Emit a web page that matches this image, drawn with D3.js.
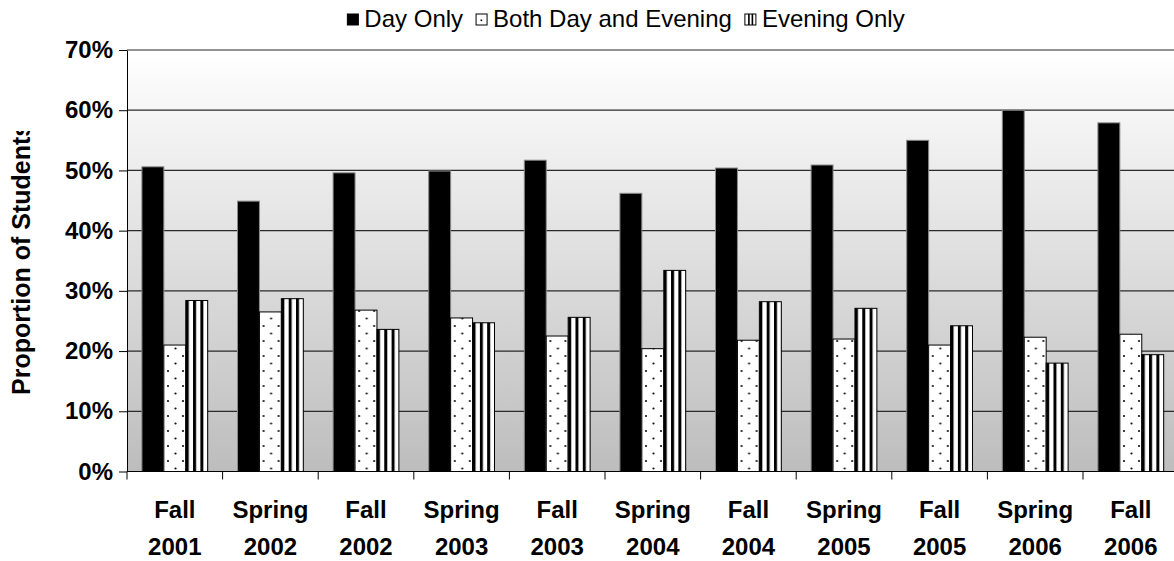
<!DOCTYPE html>
<html>
<head>
<meta charset="utf-8">
<script src="https://cdn.jsdelivr.net/npm/d3@7/dist/d3.min.js"></script>
<style>
  body { margin: 0; background: #fff; }
  svg { display: block; font-family: "Liberation Sans", Arial, sans-serif; }
</style>
</head>
<body>
<div id="chart"></div>
<script>
// data
var categories = ["Fall 2001", "Spring 2002", "Fall 2002", "Spring 2003", "Fall 2003", "Spring 2004",
                  "Fall 2004", "Spring 2005", "Fall 2005", "Spring 2006", "Fall 2006"];
var seriesNames = ["Day Only", "Both Day and Evening", "Evening Only"];
var dayOnly     = [0.506, 0.449, 0.496, 0.499, 0.517, 0.462, 0.504, 0.509, 0.550, 0.600, 0.579];
var bothDayEve  = [0.210, 0.265, 0.268, 0.255, 0.225, 0.204, 0.218, 0.220, 0.210, 0.223, 0.228];
var eveningOnly = [0.284, 0.287, 0.236, 0.247, 0.256, 0.334, 0.282, 0.271, 0.242, 0.180, 0.194];
var yTicks = [0, 0.1, 0.2, 0.3, 0.4, 0.5, 0.6, 0.7];

var series = [dayOnly, bothDayEve, eveningOnly];
var data = categories.map(function(c, i) {
  return { cat: c, values: series.map(function(s, k) { return { key: seriesNames[k], value: s[i] }; }) };
});

var width = 1174, height = 561;
var margin = {top: 50, left: 127};
var plotRight = 127 + 11 * 95.6, plotBottom = 471.5;

var svg = d3.select("#chart").append("svg")
    .attr("width", width)
    .attr("height", height);

var defs = svg.append("defs");

var grad = defs.append("linearGradient")
    .attr("id", "bg").attr("x1", 0).attr("y1", 0).attr("x2", 0).attr("y2", 1);
grad.append("stop").attr("offset", "0%").attr("stop-color", "#ffffff");
grad.append("stop").attr("offset", "100%").attr("stop-color", "#bdbdbd");

var dots = defs.append("pattern")
    .attr("id", "dots").attr("patternUnits", "userSpaceOnUse")
    .attr("width", 15).attr("height", 15);
dots.append("rect").attr("width", 15).attr("height", 15).attr("fill", "#fff");
dots.append("circle").attr("cx", 3.5).attr("cy", 3.5).attr("r", 1.1).attr("fill", "#111");
dots.append("circle").attr("cx", 11).attr("cy", 11).attr("r", 1.1).attr("fill", "#111");

var stripes = defs.append("pattern")
    .attr("id", "stripes").attr("patternUnits", "objectBoundingBox")
    .attr("width", 1 / 3).attr("height", 1);
stripes.append("rect").attr("width", 40).attr("height", 600).attr("fill", "#fff");
stripes.append("rect").attr("x", 0).attr("width", 3).attr("height", 600).attr("fill", "#000");

var x = d3.scaleBand()
    .domain(categories)
    .range([margin.left, plotRight]);

var xInner = d3.scaleBand()
    .domain(seriesNames)
    .range([0, x.bandwidth()])
    .paddingOuter(0.68);

var y = d3.scaleLinear()
    .domain([0, 0.7])
    .range([plotBottom, margin.top]);

var fills = {"Day Only": "#000", "Both Day and Evening": "url(#dots)", "Evening Only": "url(#stripes)"};
var strokes = {"Day Only": "#8a8a8a", "Both Day and Evening": "#000", "Evening Only": "#000"};

// plot background
svg.append("rect")
    .attr("x", margin.left).attr("y", margin.top)
    .attr("width", plotRight - margin.left).attr("height", plotBottom - margin.top)
    .attr("fill", "url(#bg)");

// gridlines
svg.append("g").selectAll("line")
    .data(yTicks.slice(1))
  .enter().append("line")
    .attr("x1", margin.left).attr("x2", plotRight)
    .attr("y1", function(d) { return y(d); }).attr("y2", function(d) { return y(d); })
    .attr("stroke", "#2a2a2a").attr("stroke-width", 1.2);

// bars
var group = svg.append("g").selectAll(".group")
    .data(data)
  .enter().append("g")
    .attr("class", "group")
    .attr("transform", function(d) { return "translate(" + x(d.cat) + ",0)"; });

group.selectAll("rect")
    .data(function(d) { return d.values; })
  .enter().append("rect")
    .attr("x", function(d) { return xInner(d.key); })
    .attr("y", function(d) { return y(d.value); })
    .attr("width", xInner.bandwidth())
    .attr("height", function(d) { return plotBottom - y(d.value); })
    .attr("fill", function(d) { return fills[d.key]; })
    .attr("stroke", function(d) { return strokes[d.key]; })
    .attr("stroke-width", 1);

// y axis
var yAxis = svg.append("g")
    .attr("transform", "translate(" + margin.left + ",0)")
    .call(d3.axisLeft(y).tickValues(yTicks).tickFormat(d3.format(".0%")).tickSize(8).tickPadding(6).tickSizeOuter(0));
yAxis.select(".domain").attr("stroke", "#000");
yAxis.selectAll(".tick line").attr("stroke", "#000");
yAxis.selectAll("text")
    .attr("fill", "#000")
    .style("font-size", "24px")
    .style("font-weight", "bold");

// x axis: ticks at category boundaries, two line labels
var xAxis = svg.append("g")
    .attr("transform", "translate(0," + plotBottom + ")");
xAxis.append("line")
    .attr("x1", margin.left).attr("x2", plotRight)
    .attr("stroke", "#000");
xAxis.selectAll(".bt")
    .data(categories)
  .enter().append("line")
    .attr("class", "bt")
    .attr("x1", function(d) { return x(d); }).attr("x2", function(d) { return x(d); })
    .attr("y1", 0).attr("y2", 8)
    .attr("stroke", "#000");

var lab = xAxis.selectAll(".lab")
    .data(categories)
  .enter().append("text")
    .attr("class", "lab")
    .attr("x", function(d) { return x(d) + x.bandwidth() / 2; })
    .attr("text-anchor", "middle")
    .style("font-size", "24px")
    .style("font-weight", "bold");
lab.append("tspan")
    .attr("x", function(d) { return x(d) + x.bandwidth() / 2; })
    .attr("y", 46)
    .text(function(d) { return d.split(" ")[0]; });
lab.append("tspan")
    .attr("x", function(d) { return x(d) + x.bandwidth() / 2; })
    .attr("y", 83)
    .text(function(d) { return d.split(" ")[1]; });

// y title, cut off at the top like the original
defs.append("clipPath").attr("id", "titleClip")
  .append("rect").attr("x", 0).attr("y", 131).attr("width", 60).attr("height", 300);
svg.append("g")
    .attr("clip-path", "url(#titleClip)")
  .append("text")
    .attr("transform", "translate(30,395) rotate(-90)")
    .style("font-size", "25px")
    .style("font-weight", "bold")
    .text("Proportion of Students");

// legend
var legend = svg.append("g").attr("class", "legend");
var lx = 0;
seriesNames.forEach(function(name) {
  var g = legend.append("g").attr("transform", "translate(" + lx + ",0)");
  var box = g.append("rect")
      .attr("x", 0).attr("y", -13).attr("width", 11).attr("height", 11)
      .attr("stroke", "#000").attr("stroke-width", 1);
  if (name === "Day Only") box.attr("fill", "#000");
  else box.attr("fill", "#fff");
  if (name === "Both Day and Evening")
    g.append("rect").attr("x", 4.5).attr("y", -7.5).attr("width", 1.6).attr("height", 1.6).attr("fill", "#000");
  if (name === "Evening Only") {
    g.append("line").attr("x1", 4).attr("x2", 4).attr("y1", -13).attr("y2", -2).attr("stroke", "#000").attr("stroke-width", 1.6);
    g.append("line").attr("x1", 7.5).attr("x2", 7.5).attr("y1", -13).attr("y2", -2).attr("stroke", "#000").attr("stroke-width", 1.6);
  }
  var t = g.append("text")
      .attr("x", 17).attr("y", 0)
      .style("font-size", "24px")
      .text(name);
  lx += 17 + t.node().getComputedTextLength() + 13;
});
var lw = lx - 13;
legend.attr("transform", "translate(" + (626 - lw / 2) + ",27)");
</script>
</body>
</html>
